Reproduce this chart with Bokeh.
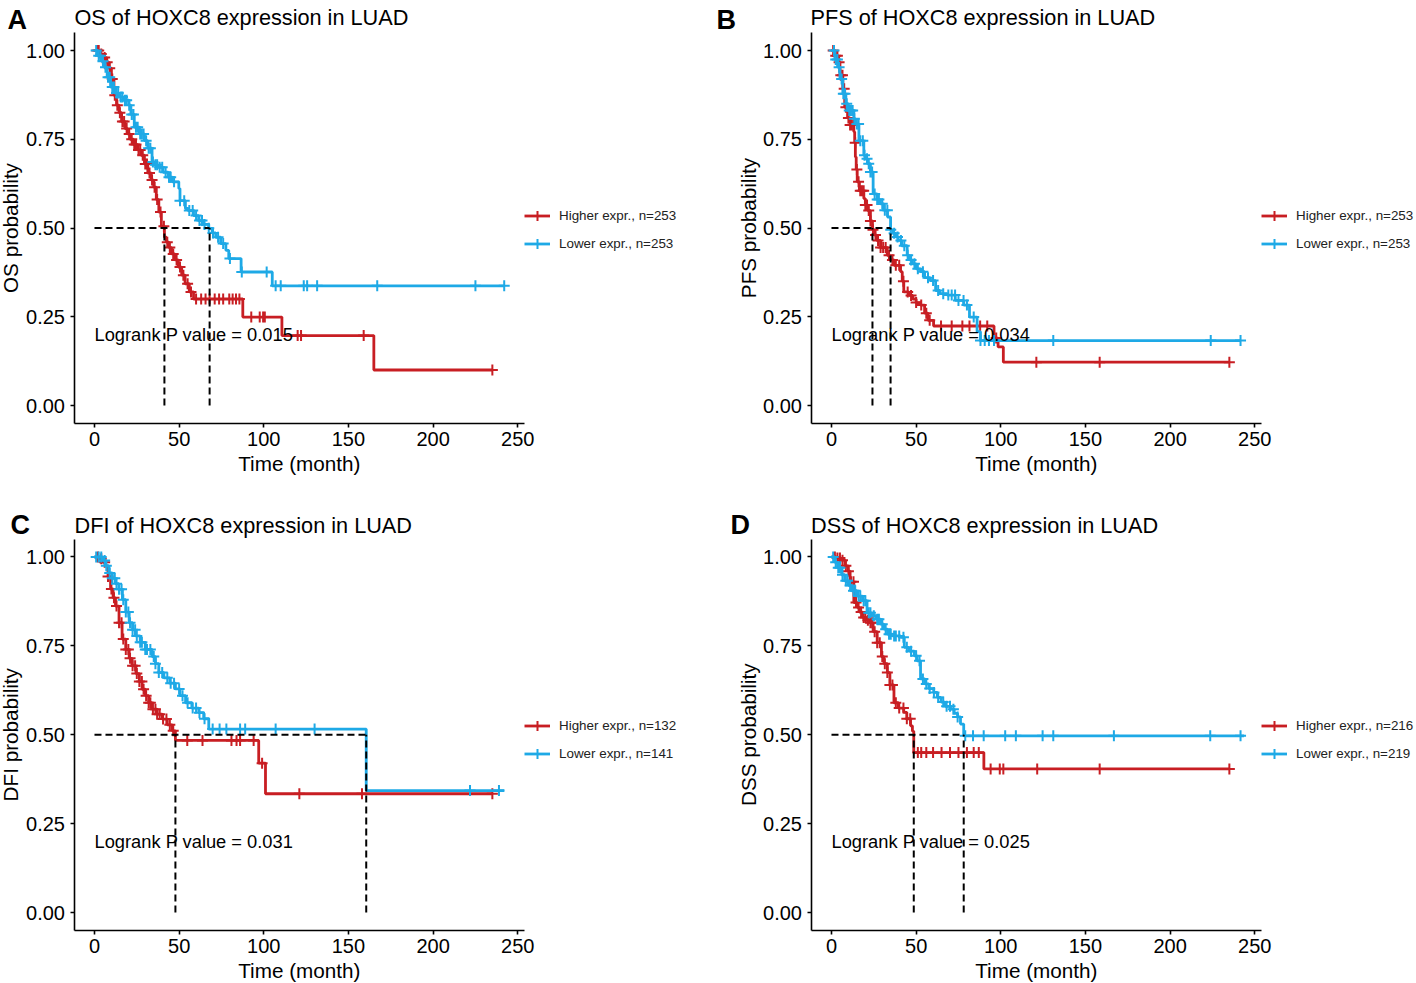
import numpy as np
from bokeh.plotting import figure
from bokeh.layouts import column, row
from bokeh.models import (Range1d, FixedTicker, Legend, LegendItem, Label,
                          NumeralTickFormatter)
from bokeh.embed import file_html
from bokeh.resources import INLINE

FONT = "Liberation Sans"
RED = "#C81E23"
BLUE = "#1EA9E6"

# ---------------- data ----------------
x_ticks = [0, 50, 100, 150, 200, 250]
y_ticks = [0.0, 0.25, 0.5, 0.75, 1.0]
y_tick_labels = ["0.00", "0.25", "0.50", "0.75", "1.00"]
X0, X1 = -12.1, 254.1      # axis extent (data)
Y0, Y1 = -0.05, 1.05

letters = ["A", "B", "C", "D"]
titles = ["OS of HOXC8 expression in LUAD", "PFS of HOXC8 expression in LUAD",
          "DFI of HOXC8 expression in LUAD", "DSS of HOXC8 expression in LUAD"]
ylabels = ["OS probability", "PFS probability", "DFI probability", "DSS probability"]
x_label = "Time (month)"
pvalues = ["0.015", "0.034", "0.031", "0.025"]
n_high = [253, 253, 132, 216]
n_low = [253, 253, 141, 219]
median_high = [41.3, 24.2, 47.8, 48.6]
median_low = [68.0, 34.9, 160.5, 78.1]

# OS
os_hi_t = [0, 3, 5, 7, 8.5, 10, 11.5, 13, 14.5, 16, 18, 19.5, 21, 23, 25.5, 27.5, 29.5, 31.5, 33.5, 35,
           36.5, 38, 39.5, 41.3, 42.5, 44, 45.5, 47.5, 49.5, 51.5, 53.5, 56, 58.5, 87.6, 110.7, 165]
os_hi_s = [1.0, 0.99, 0.98, 0.967, 0.95, 0.92, 0.874, 0.846, 0.825, 0.80, 0.78, 0.765, 0.75, 0.735, 0.72, 0.705, 0.68, 0.655, 0.635, 0.615,
           0.58, 0.545, 0.505, 0.474, 0.46, 0.445, 0.427, 0.41, 0.39, 0.367, 0.343, 0.32, 0.30, 0.249, 0.197, 0.10]
os_hi_end = 235
os_hi_cens = [1.5, 2.5, 4, 6, 7.5, 9, 10.5, 12, 13.5, 15, 16.5, 17.5, 19, 20.5, 22, 23.5, 24.5, 26, 27, 28.5,
              30, 31, 32.5, 34, 35.5, 37, 39, 41, 43, 44.5, 46.5, 48.5, 50.5, 52.5, 55, 57, 60, 63, 65.6, 68,
              71, 73.6, 76, 79.6, 81.6, 83.6, 85.6, 92.6, 97.6, 99.6, 100.6, 120, 122, 159, 235]
os_lo_t = [0, 2, 4, 5.5, 7.5, 9.5, 12, 14.5, 17, 20.3, 21.5, 23.5, 26.5, 29.5, 31.5, 34, 35.5, 37.5, 40.5, 43.5,
           46, 49.8, 50.5, 53.7, 55.5, 58.5, 61.5, 64, 67.5, 69.5, 71.6, 74.5, 77.6, 79.3, 86.6, 105]
os_lo_s = [1.0, 0.985, 0.97, 0.953, 0.925, 0.897, 0.88, 0.869, 0.86, 0.846, 0.82, 0.784, 0.765, 0.746, 0.725, 0.686, 0.678, 0.671, 0.657, 0.643,
           0.63, 0.611, 0.577, 0.555, 0.549, 0.535, 0.521, 0.51, 0.499, 0.486, 0.474, 0.456, 0.437, 0.414, 0.376, 0.337]
os_lo_end = 242
os_lo_cens = [1, 2.5, 3.5, 5, 6.5, 8, 9, 10.5, 11.5, 13, 14, 15.5, 16.5, 18, 19, 20.5, 22, 23, 24.5, 25.5,
              27, 28, 29, 30.5, 32, 33, 34.5, 36, 37, 38.5, 40, 42, 44, 45, 47, 50.5, 53, 56, 58, 60,
              62, 63.5, 65, 67.5, 70, 73, 76, 80, 87, 101.7, 107, 110, 123.6, 125.6, 131.5, 167, 225, 242]

# PFS
pfs_hi_t = [0, 2, 3.6, 5, 6.7, 7.8, 9.5, 11, 13.2, 13.7, 14.1, 14.6, 15.2, 16.5, 19.1, 20, 21.5, 23, 24.2, 25.5,
            26.7, 29, 32.9, 34.5, 37, 40.8, 41.8, 42.7, 45.7, 48, 50, 52.6, 55, 57, 60.3, 96, 98.4, 101.5]
pfs_hi_s = [1.0, 0.985, 0.967, 0.93, 0.892, 0.84, 0.81, 0.79, 0.771, 0.74, 0.70, 0.665, 0.63, 0.605, 0.583, 0.565, 0.549, 0.52, 0.495, 0.48,
            0.465, 0.445, 0.423, 0.41, 0.395, 0.377, 0.35, 0.32, 0.31, 0.30, 0.29, 0.283, 0.26, 0.24, 0.224, 0.19, 0.165, 0.122]
pfs_hi_end = 235
pfs_hi_cens = [1, 2.5, 3.5, 4.5, 5.5, 6.5, 7.5, 8.5, 10, 11, 12, 13, 14, 15, 16, 17, 18, 19, 20, 21,
               22, 23, 24.5, 26, 27.5, 29, 30.5, 32, 34, 36, 38, 40, 42.5, 45, 47, 50, 53, 56, 58,
               64.7, 71, 77.3, 81.5, 87.8, 92, 97.3, 121, 158.4, 235]
pfs_lo_t = [0, 2, 3.6, 5, 6.7, 8.5, 9.9, 13.2, 14.1, 16.2, 19.1, 20, 21.5, 23, 24.6, 27, 28.9, 31, 33.1, 34.9,
            36.2, 38, 39.4, 41.5, 44.7, 46, 47.8, 50, 52.6, 55, 58.3, 61.5, 64, 68.3, 73.1, 78.1, 81.5, 86, 88]
pfs_lo_s = [1.0, 0.975, 0.953, 0.92, 0.878, 0.85, 0.831, 0.808, 0.793, 0.746, 0.705, 0.695, 0.681, 0.658, 0.596, 0.58, 0.568, 0.55, 0.531, 0.495,
            0.485, 0.475, 0.465, 0.45, 0.423, 0.41, 0.399, 0.385, 0.377, 0.36, 0.352, 0.324, 0.315, 0.311, 0.296, 0.283, 0.249, 0.208, 0.183]
pfs_lo_end = 241.6
pfs_lo_cens = [1.5, 2.5, 3.5, 4.5, 6, 7, 8, 9, 10.5, 11.5, 12.5, 13.5, 15, 16, 17, 18.5, 19.5, 21, 22, 23,
               24, 25.5, 27, 28, 30, 31.5, 33, 35, 37, 39, 41, 43, 45, 47, 49, 51, 54, 57, 60, 63,
               66, 69, 71, 73, 75, 78, 80, 84, 88, 90.5, 93, 96, 131, 224, 241.6]

# DFI
dfi_hi_t = [0, 3, 5, 6.5, 8, 9.5, 11, 12.4, 14.5, 16.3, 18.5, 20.5, 22.2, 24.5, 26.5, 28.1, 30, 32, 34, 37,
            40, 43, 45.9, 47.8, 97, 101]
dfi_hi_s = [1.0, 0.995, 0.985, 0.975, 0.945, 0.91, 0.885, 0.862, 0.815, 0.769, 0.74, 0.715, 0.694, 0.672, 0.65, 0.628, 0.61, 0.59, 0.572, 0.558,
            0.544, 0.528, 0.511, 0.484, 0.42, 0.334]
dfi_hi_end = 235
dfi_hi_cens = [2, 4, 6, 8, 10, 11.5, 13, 14.5, 16, 17, 18.5, 20, 21, 22.5, 24, 25, 26.5, 28, 29, 30.5,
               32, 33, 34.5, 36, 37, 38.5, 40.5, 42.5, 44.5, 46.5, 54.8, 63.8, 80.9, 83.9, 86, 94, 99, 121, 158, 235]
dfi_lo_t = [0, 5, 6.5, 8.5, 10.5, 12.5, 14.4, 16.5, 18.5, 20.5, 22.5, 24.2, 27, 30, 34, 36, 38, 41, 44.5, 47.8,
            50.5, 53.8, 57.5, 61.6, 64.5, 67.5, 160.5]
dfi_lo_s = [1.0, 0.99, 0.975, 0.955, 0.94, 0.925, 0.909, 0.88, 0.845, 0.815, 0.795, 0.778, 0.76, 0.74, 0.72, 0.70, 0.675, 0.66, 0.645, 0.629,
            0.61, 0.59, 0.575, 0.562, 0.545, 0.516, 0.343]
dfi_lo_end = 242
dfi_lo_cens = [1, 2.5, 4, 6, 7, 9, 10.5, 12, 13, 14.5, 16, 17, 18.5, 20, 21, 22.5, 24, 25, 27, 28,
               30, 31, 33, 35, 36, 38, 40, 43, 45, 47, 50, 52, 55, 58, 60, 62, 65, 69.8, 73.9, 77.9,
               86, 89, 107, 130, 221.8, 238.9]

# DSS
dss_hi_t = [0, 3, 5.7, 8, 9.9, 11, 13.2, 15.2, 16.5, 18.3, 20.5, 23, 24.6, 27, 29.5, 31, 33, 34.5, 36.9, 39.5,
            42.7, 44.5, 46.7, 47.8, 48.6, 90]
dss_hi_s = [1.0, 0.997, 0.991, 0.975, 0.96, 0.93, 0.872, 0.858, 0.845, 0.83, 0.822, 0.815, 0.79, 0.759, 0.72, 0.70, 0.675, 0.64, 0.59, 0.575,
            0.563, 0.545, 0.525, 0.51, 0.45, 0.404]
dss_hi_end = 235
dss_hi_cens = [2, 3.5, 5, 6.5, 8.5, 10, 11.5, 13, 14.5, 16, 17.5, 19, 20, 21.5, 23, 24, 25.5, 27, 28.5, 30,
               31.5, 33, 34.5, 36, 38, 40, 42.5, 44.5, 46.5, 51, 53, 56, 60, 65, 70, 75, 80, 84, 87,
               94, 99.4, 101.5, 121.5, 158.4, 235]
dss_lo_t = [0, 2, 3.6, 6, 7.8, 10, 12, 15, 18.3, 21, 23.6, 26.5, 29, 31, 33.1, 36, 40.8, 43, 45.7, 48.9,
            50.6, 52.6, 55.2, 57.5, 60.4, 62.5, 64.7, 67, 70.3, 72.5, 74.5, 76.2, 78.1]
dss_lo_s = [1.0, 0.985, 0.97, 0.95, 0.933, 0.92, 0.905, 0.89, 0.877, 0.843, 0.835, 0.825, 0.811, 0.797, 0.783, 0.778, 0.774, 0.746, 0.735, 0.722,
            0.708, 0.657, 0.643, 0.63, 0.619, 0.605, 0.592, 0.58, 0.572, 0.56, 0.55, 0.53, 0.497]
dss_lo_end = 243.7
dss_lo_cens = [1, 2.5, 4, 5, 6.5, 8.5, 9.5, 11, 13, 14, 16, 17, 19, 20, 22, 23, 25, 27, 28, 30,
               32, 34, 35, 37, 38, 40, 42.5, 44.5, 47, 50, 52, 54, 56, 58, 60.5, 63, 66, 68, 70, 72,
               74.5, 79, 83.6, 89.9, 102.6, 108.9, 124.7, 131, 166.8, 223.7, 241.6]

curves = [
    ((os_hi_t, os_hi_s, os_hi_end, os_hi_cens), (os_lo_t, os_lo_s, os_lo_end, os_lo_cens)),
    ((pfs_hi_t, pfs_hi_s, pfs_hi_end, pfs_hi_cens), (pfs_lo_t, pfs_lo_s, pfs_lo_end, pfs_lo_cens)),
    ((dfi_hi_t, dfi_hi_s, dfi_hi_end, dfi_hi_cens), (dfi_lo_t, dfi_lo_s, dfi_lo_end, dfi_lo_cens)),
    ((dss_hi_t, dss_hi_s, dss_hi_end, dss_hi_cens), (dss_lo_t, dss_lo_s, dss_lo_end, dss_lo_cens)),
]

# ---------------- layout (pixels, canvas of each panel) ----------------
widths = [712, 704, 712, 704]
heights = [496, 496, 486, 486]
# axis box: left, top, width, height
axis_box = [(73.5, 32.25, 450.7, 390.5), (98.5, 32.25, 450.7, 390.5),
            (73.5, 42.7, 450.7, 391.1), (98.5, 42.7, 450.7, 391.1)]
title_pos = [(74, 17.3), (98, 17.3), (74, 29), (98.5, 29)]     # left, baseline
letter_pos = [(7, 19.5), (4, 19.5), (10, 28), (18, 28)]        # left, centre
xlabel_y = [463, 463, 474, 474]                                # centre
ylabel_x = [9.5, 36, 9.5, 36]                                  # centre
legend_pos = [(524, 240), (549, 240), (524, 216.5), (549, 216.5)]  # left, bottom (from canvas bottom)


def make_panel(i):
    W, H = widths[i], heights[i]
    fl, ft, fw, fh = axis_box[i]
    kx = fw / (X1 - X0)
    ky = fh / (Y1 - Y0)
    xr = Range1d(X0 - fl / kx, X0 + (W - fl) / kx)
    yr = Range1d(Y0 - (H - ft - fh) / ky, Y1 + ft / ky)

    def dx(px):
        return X0 + (px - fl) / kx

    def dy(py):
        return Y1 - (py - ft) / ky

    p = figure(width=W, height=H, x_range=xr, y_range=yr,
               output_backend="svg", toolbar_location=None,
               min_border_left=0, min_border_right=0, min_border_top=0, min_border_bottom=0)
    p.outline_line_color = None
    p.grid.visible = False
    p.background_fill_color = "white"
    p.border_fill_color = "white"

    xa, ya = p.xaxis[0], p.yaxis[0]
    xa.fixed_location = Y0
    ya.fixed_location = X0
    xa.bounds = (X0, X1)
    ya.bounds = (Y0, Y1)
    xa.ticker = FixedTicker(ticks=x_ticks, minor_ticks=[])
    ya.ticker = FixedTicker(ticks=y_ticks, minor_ticks=[])
    ya.formatter = NumeralTickFormatter(format="0.00")
    ya.major_label_overrides = dict(zip(y_ticks, y_tick_labels))
    for ax in (xa, ya):
        ax.axis_line_color = "black"
        ax.axis_line_width = 1.6
        ax.major_tick_line_color = "black"
        ax.major_tick_line_width = 1.6
        ax.major_tick_out = 4
        ax.major_tick_in = 0
        ax.minor_tick_line_color = None
        ax.major_label_text_font = FONT
        ax.major_label_text_font_size = "20px"
        ax.major_label_text_color = "black"
    xa.major_label_standoff = 5
    ya.major_label_standoff = 5

    rends = []
    for (t, s, end, cens), color in zip(curves[i], (RED, BLUE)):
        xs = list(t) + [end]
        ys = list(s) + [s[-1]]
        r1 = p.step(xs, ys, mode="after", line_color=color, line_width=2.8)
        idx = np.searchsorted(np.asarray(t), np.asarray(cens), side="right") - 1
        cy = np.asarray(s)[idx]
        r2 = p.scatter(cens, cy, marker="cross", size=11, line_color=color, line_width=2)
        rends.append([r1, r2])

    mh, ml = median_high[i], median_low[i]
    dash = dict(line_color="black", line_width=2, line_dash="7 4")
    p.segment(x0=[0], y0=[0.5], x1=[max(mh, ml)], y1=[0.5], **dash)
    p.segment(x0=[mh, ml], y0=[0, 0], x1=[mh, ml], y1=[0.5, 0.5], **dash)

    p.add_layout(Label(x=0, y=0.2, text="Logrank P value = " + pvalues[i],
                       text_font=FONT, text_font_size="18.3px", text_color="black",
                       text_baseline="middle", text_align="left"))

    tx, ty = title_pos[i]
    p.add_layout(Label(x=dx(tx), y=dy(ty), text=titles[i], text_font=FONT,
                       text_font_size="21.7px", text_color="black",
                       text_baseline="alphabetic", text_align="left"))
    lx, ly = letter_pos[i]
    p.add_layout(Label(x=dx(lx), y=dy(ly), text=letters[i], text_font=FONT,
                       text_font_size="27px", text_font_style="bold", text_color="black",
                       text_baseline="middle", text_align="left"))
    p.add_layout(Label(x=(X0 + X1) / 2, y=dy(xlabel_y[i]), text=x_label, text_font=FONT,
                       text_font_size="20.7px", text_color="black",
                       text_baseline="middle", text_align="center"))
    p.add_layout(Label(x=dx(ylabel_x[i]), y=(Y0 + Y1) / 2, text=ylabels[i], text_font=FONT,
                       text_font_size="20.7px", text_color="black", angle=np.pi / 2,
                       text_baseline="middle", text_align="center"))

    legend = Legend(items=[
        LegendItem(label="Higher expr., n=%d" % n_high[i], renderers=rends[0]),
        LegendItem(label="Lower expr., n=%d" % n_low[i], renderers=rends[1]),
    ], location=legend_pos[i], orientation="vertical")
    legend.label_text_font = FONT
    legend.label_text_font_size = "13.4px"
    legend.label_text_color = "#222222"
    legend.glyph_width = 26
    legend.glyph_height = 25
    legend.label_height = 16
    legend.label_standoff = 9
    legend.spacing = 3
    legend.margin = 0
    legend.padding = 0
    legend.border_line_color = None
    legend.background_fill_alpha = 0
    p.add_layout(legend)
    return p


panels = [make_panel(i) for i in range(4)]
layout = column(row(panels[0], panels[1]), row(panels[2], panels[3]))

open("out.html", "w").write(file_html(layout, INLINE))
